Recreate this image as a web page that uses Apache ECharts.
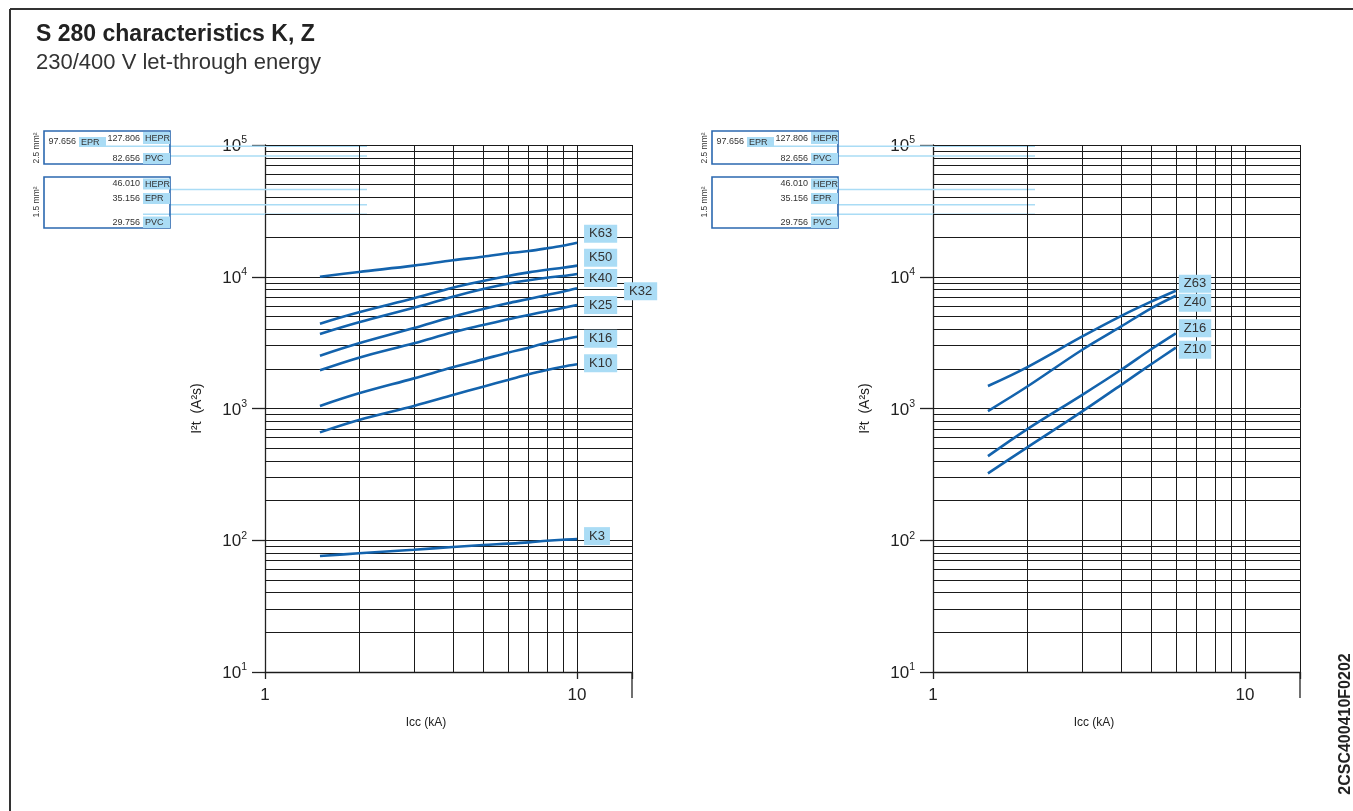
<!DOCTYPE html>
<html><head><meta charset="utf-8">
<script src="https://cdn.jsdelivr.net/npm/echarts@6/dist/echarts.min.js"></script>
<style>html,body{margin:0;padding:0;background:#fff}#c{width:1353px;height:811px}</style>
</head><body><div id="c"></div>
<script>
const FONT = 'Liberation Sans, Arial, Helvetica, sans-serif';

// ---- data ----
const kIcc = [1.5, 2, 3, 4, 5, 6, 7, 8, 9, 10];   // kA
const zIcc = [1.5, 2, 3, 4, 5, 6];                  // kA
const K63 = [10000, 10870, 12140, 13340, 14200, 15060, 15680, 16430, 17210, 18140];
const K50 = [4405, 5370, 6860, 8260, 9290, 10140, 10800, 11300, 11700, 12140];
const K40 = [3678, 4510, 5820, 7060, 8070, 8850, 9400, 9840, 10140, 10500];
const K32 = [2518, 3125, 4080, 4980, 5690, 6290, 6780, 7270, 7700, 8170];
const K25 = [1950, 2430, 3125, 3790, 4300, 4750, 5130, 5470, 5790, 6110];
const K16 = [1045, 1303, 1693, 2055, 2360, 2650, 2893, 3160, 3350, 3510];
const K10 = [659, 818, 1045, 1265, 1465, 1645, 1819, 1960, 2076, 2165];
const K3  = [75.9, 79.6, 84.8, 88.8, 92.1, 94.2, 96.4, 99.2, 101, 102];
const Z63 = [1483, 2055, 3510, 5030, 6470, 7830];
const Z40 = [957, 1462, 2780, 4180, 5760, 7180];
const Z16 = [435, 695, 1265, 1959, 2815, 3720];
const Z10 = [322, 505, 946, 1506, 2168, 2897];
const kNames = ['K63', 'K50', 'K40', 'K32', 'K25', 'K16', 'K10', 'K3'];
const zNames = ['Z63', 'Z40', 'Z16', 'Z10'];
const kValues = [K63, K50, K40, K32, K25, K16, K10, K3];
const zValues = [Z63, Z40, Z16, Z10];
const xTickLabels = [1, 10];
const xMax = 15;
const yMin = 10, yMax = 100000;
// cable let-through limits (A²s)
const cable25Text = ['97.656', '127.806', '82.656'];
const cable25Ins = ['EPR', 'HEPR', 'PVC'];
const cable25Val = [97656, 127806, 82656];
const cable15Text = ['46.010', '35.156', '29.756'];
const cable15Ins = ['HEPR', 'EPR', 'PVC'];
const cable15Val = [46010, 35156, 29756];

// ---- styles / layout ----
const BLUE = '#1363ad', LIGHT = '#aadcf5', INK = '#222';
const kLabelOffset = {K63:[0,-9], K50:[0,-8], K40:[0,4], K32:[40,3], K25:[0,0], K16:[0,2], K10:[0,-1], K3:[0,-3]};
const zLabelOffset = {Z63:[0,-7], Z40:[0,7], Z16:[0,-5], Z10:[0,2]};
const gridLefts = [265, 933];

const chart = echarts.init(document.getElementById('c'), null, {renderer: 'canvas'});

function gridMarkLines() {
  const data = [];
  for (let n = 2; n <= 10; n++) data.push({xAxis: n});
  data.push({xAxis: xMax});
  for (let e = 1; e < 5; e++) for (let n = 1; n < 10; n++) data.push({yAxis: n * Math.pow(10, e)});
  data.push({yAxis: yMax});
  return data;
}

const grids = gridLefts.map(l => ({left: l, top: 145, width: 367, height: 527}));
const xAxes = gridLefts.map((l, i) => ({
  type: 'log', logBase: 10, min: 1, max: xMax, gridIndex: i,
  axisLine: {show: true, onZero: false, lineStyle: {color: INK, width: 1.3}},
  axisTick: {show: true, length: 7, lineStyle: {color: INK, width: 1.3}},
  axisLabel: {fontSize: 17, color: INK, fontFamily: FONT, margin: 15,
    formatter: v => xTickLabels.indexOf(Math.round(v * 1000) / 1000) >= 0 ? String(Math.round(v)) : ''},
  splitLine: {show: false},
  name: 'Icc (kA)', nameLocation: 'middle', nameGap: 45,
  nameTextStyle: {fontSize: 12, color: INK, fontFamily: FONT, padding: [0, 45, 0, 0]}
}));
const yAxes = gridLefts.map((l, i) => ({
  type: 'log', logBase: 10, min: yMin, max: yMax, gridIndex: i,
  axisLine: {show: true, onZero: false, lineStyle: {color: INK, width: 1.3}},
  axisTick: {show: true, length: 13, lineStyle: {color: INK, width: 1.3}},
  axisLabel: {margin: 18,
    formatter: v => '{b|10}{s|' + Math.round(Math.log10(v)) + '}',
    rich: {
      b: {fontSize: 17, color: INK, fontFamily: FONT, lineHeight: 20, verticalAlign: 'bottom'},
      s: {fontSize: 10.5, color: INK, fontFamily: FONT, lineHeight: 8, verticalAlign: 'top'}
    }},
  splitLine: {show: false},
  name: 'I²t  (A²s)', nameLocation: 'middle', nameGap: 61, nameRotate: 90,
  nameTextStyle: {fontSize: 14, color: INK, fontFamily: FONT}
}));

const series = [];
[0, 1].forEach(i => {
  series.push({
    type: 'line', xAxisIndex: i, yAxisIndex: i, data: [], silent: true, z: 1,
    markLine: {silent: true, symbol: ['none', 'none'], label: {show: false}, animation: false,
      lineStyle: {color: '#1a1a1a', width: 1, type: 'solid'}, emphasis: {disabled: true},
      data: gridMarkLines()}
  });
});
function curve(name, xs, ys, gi, off, dist) {
  return {
    name, type: 'line', xAxisIndex: gi, yAxisIndex: gi, z: 5,
    data: xs.map((x, j) => [x, ys[j]]),
    smooth: 0.35, symbol: 'none', silent: true,
    lineStyle: {color: BLUE, width: 2.6},
    endLabel: {show: true, formatter: name, color: '#333', fontSize: 13, fontFamily: FONT,
      backgroundColor: LIGHT, padding: [3, 5, 2, 5], distance: dist, offset: off}
  };
}
kNames.forEach((n, j) => series.push(curve(n, kIcc, kValues[j], 0, kLabelOffset[n], 7)));
zNames.forEach((n, j) => series.push(curve(n, zIcc, zValues[j], 1, zLabelOffset[n], 3)));

chart.setOption({
  animation: false,
  backgroundColor: '#fff',
  title: {text: 'S 280 characteristics K, Z', subtext: '230/400 V let-through energy',
    left: 36, top: 23, padding: 0, itemGap: 6,
    textStyle: {fontSize: 23, fontWeight: 'bold', color: INK, fontFamily: FONT},
    subtextStyle: {fontSize: 22, color: '#333', fontFamily: FONT}},
  grid: grids, xAxis: xAxes, yAxis: yAxes, series
});

function buildGraphics() {
  const els = [];
  els.push({type: 'line', shape: {x1: 10, y1: 9, x2: 1353, y2: 9}, style: {stroke: '#333', lineWidth: 2}});
  els.push({type: 'line', shape: {x1: 10, y1: 9, x2: 10, y2: 811}, style: {stroke: '#333', lineWidth: 2}});
  [0, 1].forEach(i => {
    const gl = chart.convertToPixel({xAxisIndex: i}, 1);
    const gr = chart.convertToPixel({xAxisIndex: i}, xMax);
    const gb = chart.convertToPixel({yAxisIndex: i}, yMin);
    els.push({type: 'line', shape: {x1: gr, y1: gb, x2: gr, y2: gb + 26}, style: {stroke: INK, lineWidth: 1.3}});
    const bx = gl - 221;
    const lineEnd = gl + 102;
    const tables = [
      {texts: cable25Text, ins: cable25Ins, vals: cable25Val, ty: [142, 138.5, 158.5], by: [137, 132, 153], bh: [10, 12, 11], start: [bx + 62, bx + 126, bx + 126]},
      {texts: cable15Text, ins: cable15Ins, vals: cable15Val, ty: [184, 198.5, 222.5], by: [178.5, 193, 216.5], bh: [11, 11, 11.5], start: [bx + 126, bx + 126, bx + 99]}
    ];
    tables.forEach(t => t.vals.forEach((v, j) => {
      if (v > yMax) return;
      const y = chart.convertToPixel({yAxisIndex: i}, v);
      els.push({type: 'line', z: 1, shape: {x1: t.start[j], y1: y, x2: lineEnd, y2: y}, style: {stroke: LIGHT, lineWidth: 1.5}});
    }));
    els.push({type: 'rect', z: 2, shape: {x: bx, y: 131, width: 126, height: 33}, style: {fill: null, stroke: '#2b68b0', lineWidth: 1.6}});
    els.push({type: 'rect', z: 2, shape: {x: bx, y: 177, width: 126, height: 51}, style: {fill: null, stroke: '#2b68b0', lineWidth: 1.6}});
    els.push({type: 'text', z: 3, x: bx - 7, y: 148, rotation: Math.PI / 2,
      style: {text: '2.5 mm²', fontSize: 8.5, fill: '#333', fontFamily: FONT, align: 'center', verticalAlign: 'middle'}});
    els.push({type: 'text', z: 3, x: bx - 7, y: 202, rotation: Math.PI / 2,
      style: {text: '1.5 mm²', fontSize: 8.5, fill: '#333', fontFamily: FONT, align: 'center', verticalAlign: 'middle'}});
    tables.forEach((t, ti) => t.texts.forEach((s, j) => {
      const tagX = (ti === 0 && j === 0) ? bx + 35 : bx + 99;
      const numX = (ti === 0 && j === 0) ? bx + 32 : bx + 96;
      els.push({type: 'rect', z: 3, shape: {x: tagX, y: t.by[j], width: 27, height: t.bh[j]}, style: {fill: LIGHT}});
      els.push({type: 'text', z: 4, x: tagX + 2, y: t.by[j] + t.bh[j] / 2 + 0.5,
        style: {text: t.ins[j], fontSize: 9, fill: '#333', fontFamily: FONT, align: 'left', verticalAlign: 'middle'}});
      els.push({type: 'text', z: 4, x: numX, y: t.ty[j],
        style: {text: s, fontSize: 9, fill: '#333', fontFamily: FONT, align: 'right', verticalAlign: 'middle'}});
    }));
  });
  els.push({type: 'text', x: 1346, y: 724, rotation: Math.PI / 2,
    style: {text: '2CSC400410F0202', fontSize: 16, fontWeight: 'bold', fill: INK, fontFamily: FONT, align: 'center', verticalAlign: 'middle'}});
  chart.setOption({graphic: els});
}
buildGraphics();
</script>
</body></html>
